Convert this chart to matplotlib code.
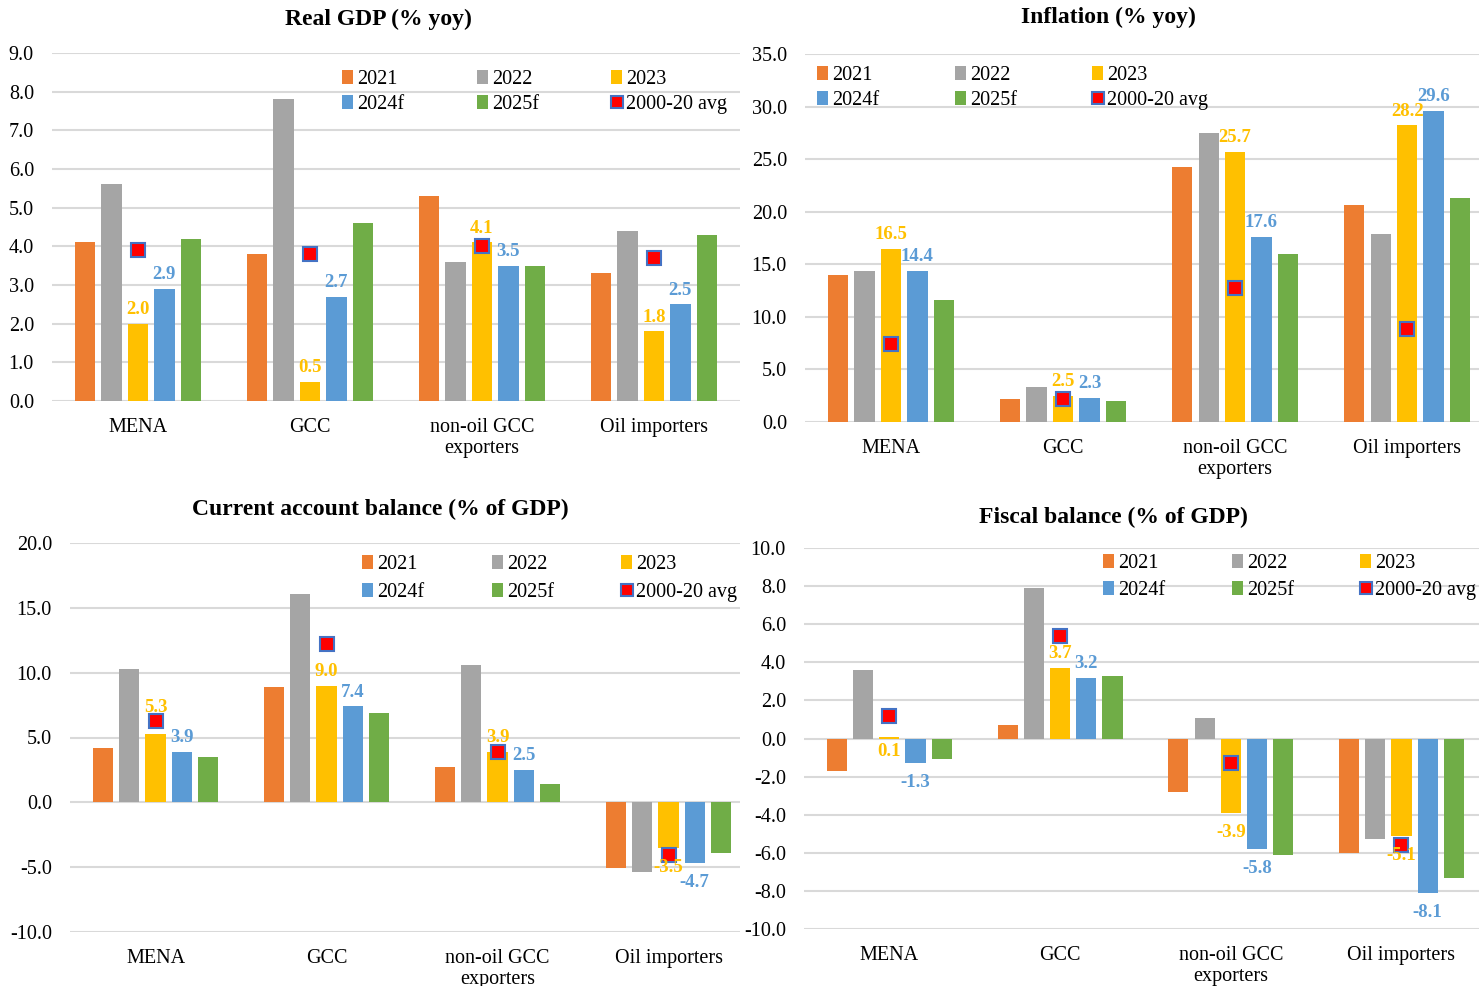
import numpy as np
import matplotlib
matplotlib.use("Agg")
import matplotlib.pyplot as plt
from matplotlib.lines import Line2D

plt.rcParams["font.family"] = ["Liberation Serif", "DejaVu Serif"]
plt.rcParams["axes.unicode_minus"] = False

W, H = 1479, 986

CATEGORIES = ["MENA", "GCC", "non-oil GCC\nexporters", "Oil importers"]
SERIES = ["2021", "2022", "2023", "2024f", "2025f"]
AVG_LABEL = "2000-20 avg"
COLORS = ["#ED7D31", "#A5A5A5", "#FFC000", "#5B9BD5", "#70AD47"]

# Real GDP (% yoy)
gdp_2021 = [4.1, 3.8, 5.3, 3.3]
gdp_2022 = [5.6, 7.8, 3.6, 4.4]
gdp_2023 = [2.0, 0.5, 4.1, 1.8]
gdp_2024 = [2.9, 2.7, 3.5, 2.5]
gdp_2025 = [4.2, 4.6, 3.5, 4.3]
gdp_avg = [3.9, 3.8, 4.0, 3.7]

# Inflation (% yoy)
inf_2021 = [14.0, 2.2, 24.3, 20.6]
inf_2022 = [14.4, 3.3, 27.5, 17.9]
inf_2023 = [16.5, 2.5, 25.7, 28.2]
inf_2024 = [14.4, 2.3, 17.6, 29.6]
inf_2025 = [11.6, 2.0, 16.0, 21.3]
inf_avg = [7.4, 2.2, 12.7, 8.8]

# Current account balance (% of GDP)
ca_2021 = [4.2, 8.9, 2.7, -5.1]
ca_2022 = [10.3, 16.1, 10.6, -5.4]
ca_2023 = [5.3, 9.0, 3.9, -3.5]
ca_2024 = [3.9, 7.4, 2.5, -4.7]
ca_2025 = [3.5, 6.9, 1.4, -3.9]
ca_avg = [6.3, 12.2, 3.9, -4.1]

# Fiscal balance (% of GDP)
fb_2021 = [-1.7, 0.7, -2.8, -6.0]
fb_2022 = [3.6, 7.9, 1.1, -5.3]
fb_2023 = [0.1, 3.7, -3.9, -5.1]
fb_2024 = [-1.3, 3.2, -5.8, -8.1]
fb_2025 = [-1.1, 3.3, -6.1, -7.3]
fb_avg = [1.2, 5.4, -1.3, -5.6]

PITCH = 0.1535
BAR_W = 0.118

fig = plt.figure(figsize=(W / 100, H / 100), dpi=100)


def draw_panel(px, title, title_x, title_pad, series, avg, ylim, ystep, xright,
               leg_xy, colspacing, labelspacing, below=(), lifted=()):
    left, top, right, bottom = px
    ax = fig.add_axes([left / W, 1 - bottom / H, (right - left) / W, (bottom - top) / H])
    x = np.arange(len(CATEGORIES))
    offsets = (np.arange(len(SERIES)) - 2) * PITCH
    handles = []
    for i, vals in enumerate(series):
        b = ax.bar(x + offsets[i], vals, width=BAR_W, color=COLORS[i], label=SERIES[i], zorder=2)
        handles.append(b)
    ax.plot(x, avg, "s", ms=10.5, mfc="red", mec="#4472C4", mew=1.5, zorder=4)
    avg_handle = Line2D([], [], ls="none", marker="s", ms=9, mfc="red", mec="#4472C4", mew=1.5)

    # value labels for 2023 and 2024f
    for i in (2, 3):
        for j, v in enumerate(series[i]):
            ytxt = v
            if (i, j) in below:
                ytxt, xy_off, va = 0, (0, -3), "top"
            elif (i, j) in lifted:
                xy_off, va = (0, 13), "bottom"
            elif v >= 0:
                xy_off, va = (0, 4), "bottom"
            else:
                xy_off, va = (0, -8), "top"
            ax.annotate(f"{v:.1f}", (x[j] + offsets[i], ytxt), xytext=xy_off,
                        textcoords="offset points", ha="center", va=va,
                        color=COLORS[i], fontsize=13.5, fontweight="bold", zorder=5)

    ax.set_xlim(-0.5, xright)
    ax.set_ylim(*ylim)
    ax.set_yticks(np.arange(ylim[0], ylim[1] + ystep / 2, ystep))
    ax.yaxis.set_major_formatter(matplotlib.ticker.FormatStrFormatter("%.1f"))
    ax.set_xticks(x)
    ax.set_xticklabels(CATEGORIES, linespacing=1.15)
    ax.tick_params(axis="both", length=0, labelsize=14.5)
    ax.tick_params(axis="x", pad=12)
    ax.tick_params(axis="y", pad=13)
    ax.yaxis.grid(True, color="#D9D9D9", linewidth=1.5)
    ax.set_axisbelow(True)
    for s in ax.spines.values():
        s.set_visible(False)

    ax.set_title(title, fontsize=17, fontweight="bold", x=title_x, pad=title_pad)

    # legend fills column-wise, so interleave the two rows
    order = [handles[0], handles[3], handles[1], handles[4], handles[2], avg_handle]
    labels = [SERIES[0], SERIES[3], SERIES[1], SERIES[4], SERIES[2], AVG_LABEL]
    ax.legend(order, labels, ncol=3, loc="upper left", bbox_to_anchor=leg_xy,
              frameon=False, fontsize=14.5, borderpad=0, borderaxespad=0,
              handlelength=0.55, handleheight=0.7, handletextpad=0.2,
              columnspacing=colspacing, labelspacing=labelspacing)
    return ax


draw_panel((52, 53, 740, 401), "Real GDP (% yoy)", 0.474, 20,
           [gdp_2021, gdp_2022, gdp_2023, gdp_2024, gdp_2025], gdp_avg,
           (0, 9), 1, 3.5, (0.4215, 0.951), 3.6, 0.3)

draw_panel((805, 54, 1479, 422), "Inflation (% yoy)", 0.45, 22,
           [inf_2021, inf_2022, inf_2023, inf_2024, inf_2025], inf_avg,
           (0, 35), 5, 3.418, (0.0178, 0.967), 3.75, 0.3)

draw_panel((70, 543, 740, 932), "Current account balance (% of GDP)", 0.463, 20,
           [ca_2021, ca_2022, ca_2023, ca_2024, ca_2025], ca_avg,
           (-10, 20), 5, 3.418, (0.436, 0.969), 3.35, 0.42,
           lifted={(2, 0)})

draw_panel((804, 548, 1479, 929), "Fiscal balance (% of GDP)", 0.459, 18,
           [fb_2021, fb_2022, fb_2023, fb_2024, fb_2025], fb_avg,
           (-10, 10), 2, 3.454, (0.443, 0.984), 3.3, 0.37,
           below={(2, 0)})

fig.savefig("out.png", dpi=100)
